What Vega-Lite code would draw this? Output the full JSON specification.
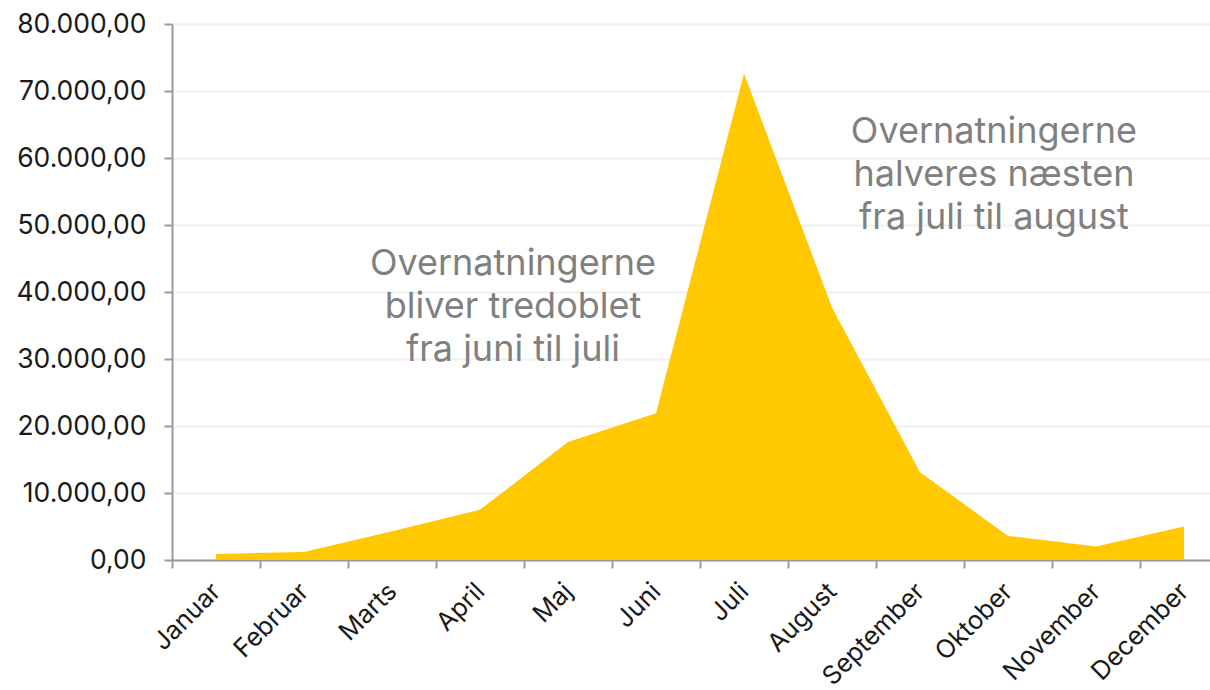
{
  "$schema": "https://vega.github.io/schema/vega-lite/v6.json",
  "width": 1038,
  "height": 536,
  "autosize": {"type": "none"},
  "padding": {"left": 172, "top": 24, "right": 0, "bottom": 130},
  "background": "white",
  "config": {
    "locale": {"number": {"decimal": ",", "thousands": ".", "grouping": [3], "currency": ["", " kr."]}},
    "view": {"stroke": null},
    "font": "Inter"
  },
  "layer": [
    {
      "data": {"values": [
        {"month": "Januar", "value": 900},
        {"month": "Februar", "value": 1200},
        {"month": "Marts", "value": 4300},
        {"month": "April", "value": 7500},
        {"month": "Maj", "value": 17600},
        {"month": "Juni", "value": 21900},
        {"month": "Juli", "value": 72600},
        {"month": "August", "value": 37700},
        {"month": "September", "value": 13100},
        {"month": "Oktober", "value": 3600},
        {"month": "November", "value": 2000},
        {"month": "December", "value": 5000}
      ]},
      "mark": {"type": "area", "color": "#FFC800", "opacity": 1},
      "encoding": {
        "x": {
          "field": "month", "type": "ordinal", "sort": null, "bandPosition": 0.5,
          "scale": {"type": "band", "domain": ["Januar","Februar","Marts","April","Maj","Juni","Juli","August","September","Oktober","November","December"], "range": [0, 1056], "paddingInner": 0, "paddingOuter": 0},
          "axis": {
            "title": null, "labelAngle": -45, "labelAlign": "right", "labelBaseline": "middle",
            "labelFont": "Inter", "labelFontSize": 25.5, "labelColor": "#1a1a1a", "labelPadding": 19,
            "tickBand": "extent", "tickSize": 8, "tickColor": "#999999", "tickWidth": 2,
            "domainColor": "#999999", "domainWidth": 2, "grid": false
          }
        },
        "y": {
          "field": "value", "type": "quantitative",
          "scale": {"domain": [0, 80000], "nice": false},
          "axis": {
            "title": null, "values": [0,10000,20000,30000,40000,50000,60000,70000,80000], "format": ",.2f",
            "labelFont": "Inter", "labelFontSize": 26.5, "labelColor": "#1a1a1a", "labelPadding": 18,
            "tickSize": 8, "tickColor": "#999999", "tickWidth": 2,
            "domainColor": "#999999", "domainWidth": 2,
            "grid": true, "gridColor": "#f0f0f0", "gridWidth": 2
          }
        }
      }
    },
    {
      "data": {"values": [{"month": "April", "value": 42500, "label": "Overnatningerne\nbliver tredoblet\nfra juni til juli"}]},
      "mark": {"type": "text", "align": "center", "baseline": "alphabetic", "lineBreak": "\n", "lineHeight": 43, "fontSize": 36, "font": "Inter", "color": "#808080"},
      "encoding": {
        "x": {"field": "month", "type": "ordinal", "bandPosition": 0.875},
        "y": {"field": "value", "type": "quantitative"},
        "text": {"field": "label"}
      }
    },
    {
      "data": {"values": [{"month": "Oktober", "value": 62300, "label": "Overnatningerne\nhalveres næsten\nfra juli til august"}]},
      "mark": {"type": "text", "align": "center", "baseline": "alphabetic", "lineBreak": "\n", "lineHeight": 43, "fontSize": 36, "font": "Inter", "color": "#808080"},
      "encoding": {
        "x": {"field": "month", "type": "ordinal", "bandPosition": 0.34},
        "y": {"field": "value", "type": "quantitative"},
        "text": {"field": "label"}
      }
    }
  ]
}
